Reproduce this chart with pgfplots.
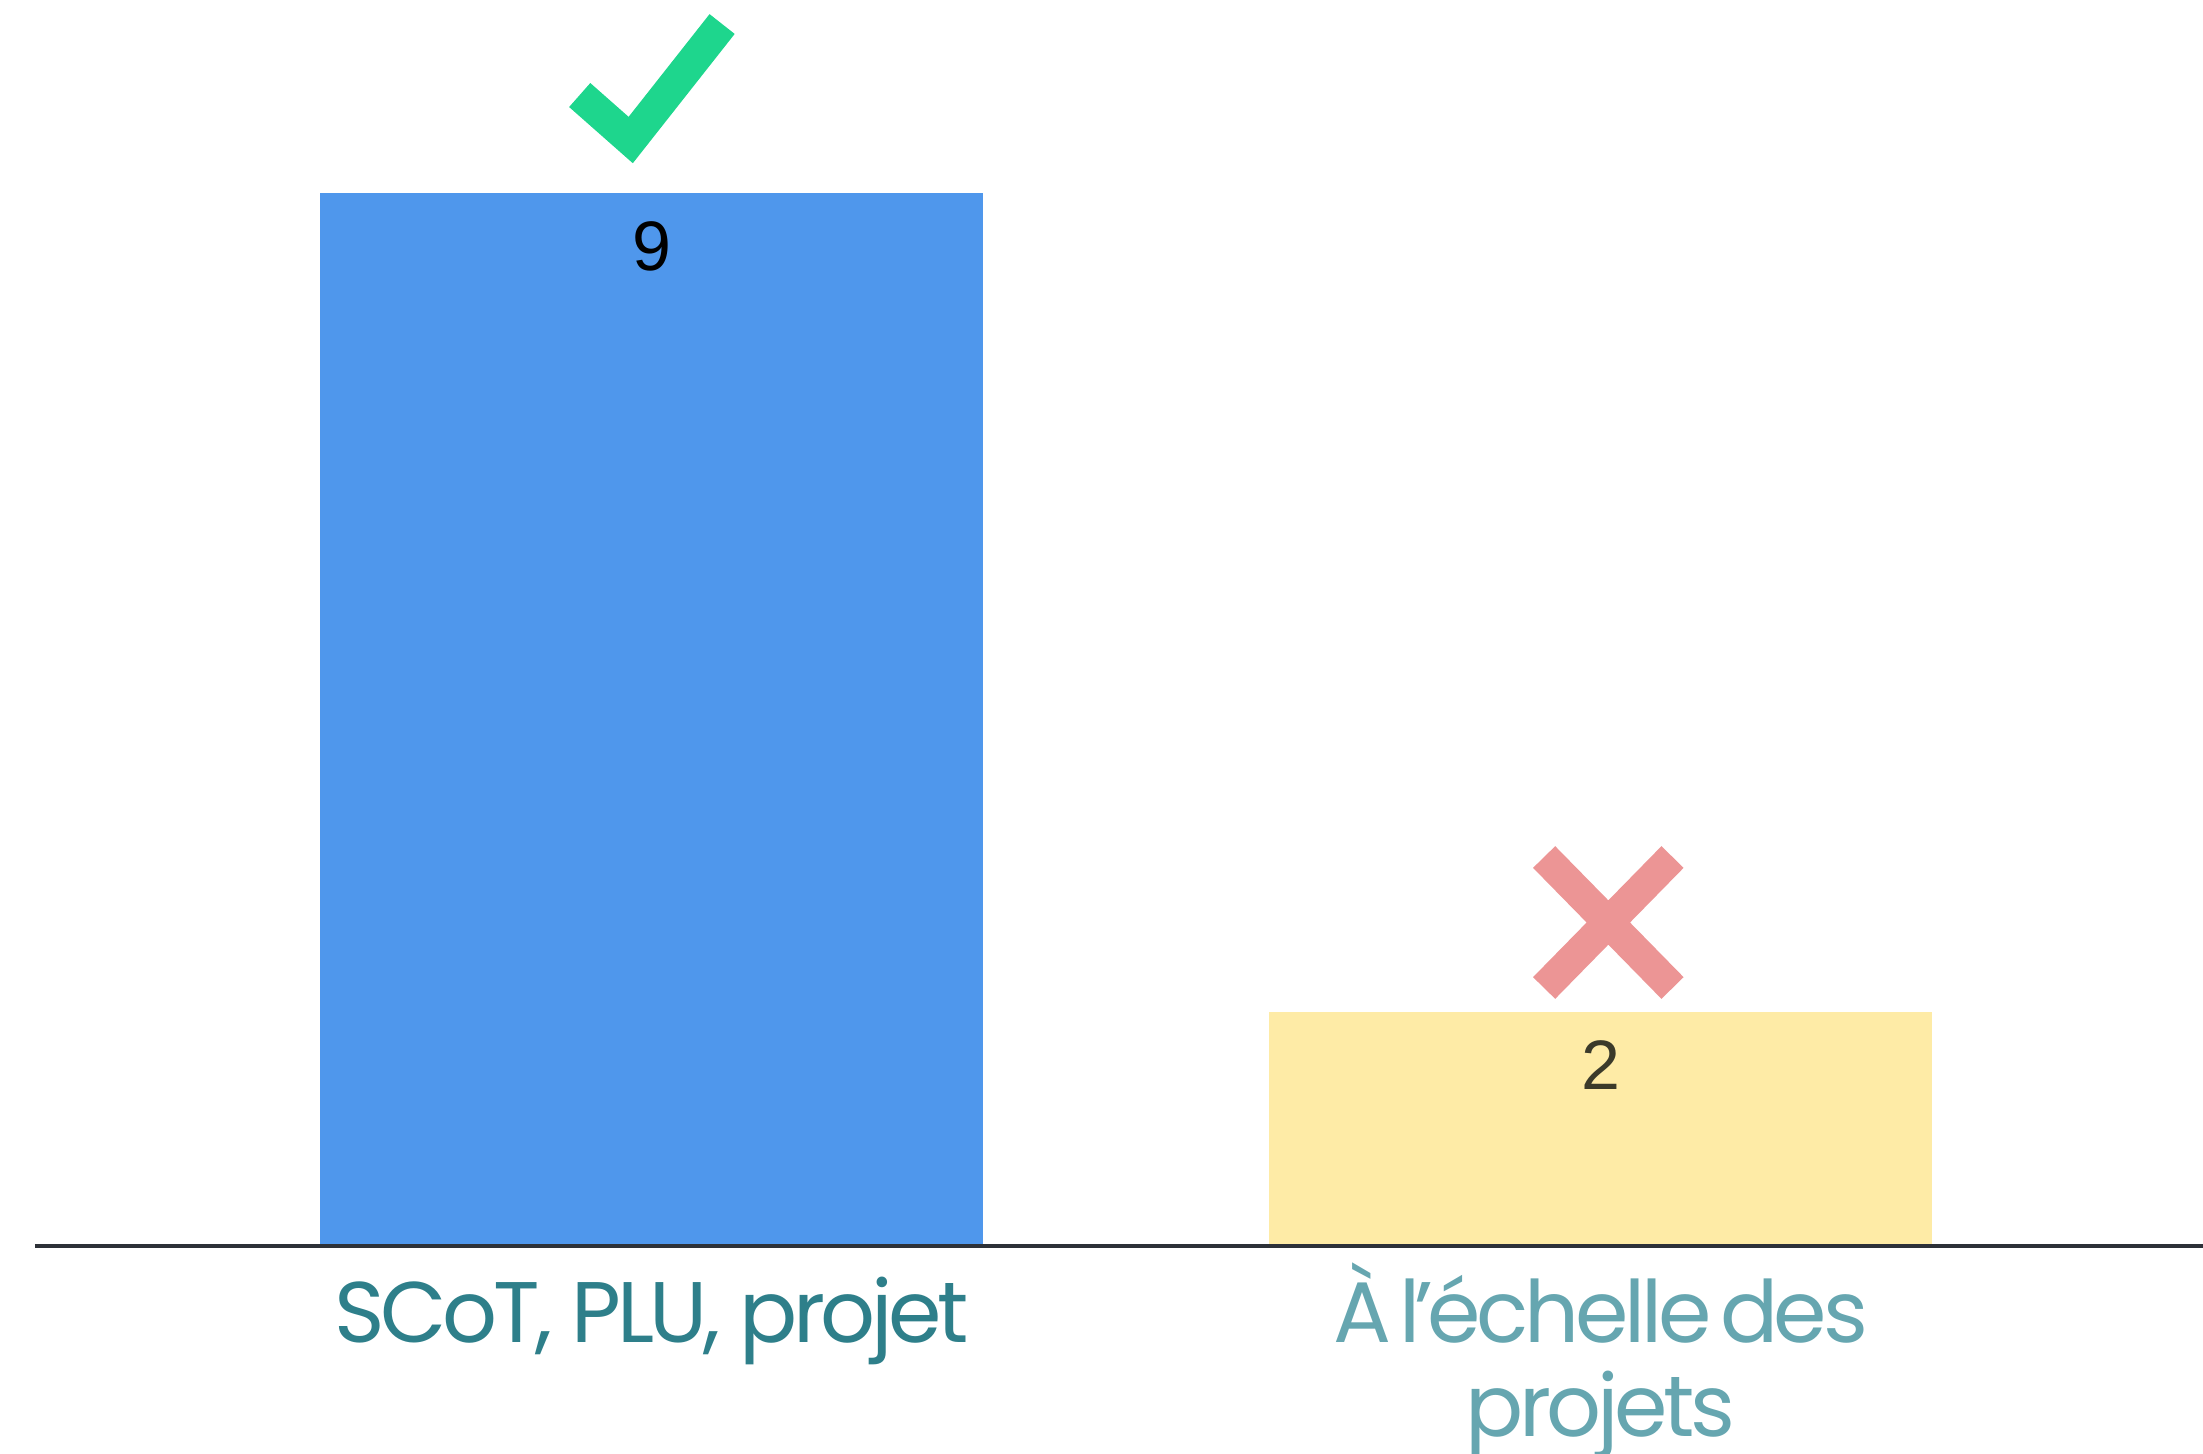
\documentclass[border=0pt]{standalone}
\usepackage{fontspec}
\usepackage{pgfplots}
\pgfplotsset{compat=1.18}
\newfontfamily\poppins[LetterSpace=-5]{Poppins}
\newfontfamily\arial{Liberation Sans}
\definecolor{barblue}{HTML}{4F97EC}
\definecolor{baryellow}{HTML}{FEEBA6}
\definecolor{chkgreen}{HTML}{1ED68D}
\definecolor{xpink}{HTML}{EC9595}
\definecolor{axisdark}{HTML}{2D3138}
\definecolor{labA}{HTML}{2E7F8A}
\definecolor{labB}{HTML}{66A6B0}
\definecolor{numB}{HTML}{3B3A2A}
\pgfdeclareplotmark{chk}{%
  \pgfsetmiterjoin\pgfsetbuttcap
  \pgfpathmoveto{\pgfpoint{-18pt}{24.5pt}}%
  \pgfpathlineto{\pgfpoint{-5.25pt}{13.25pt}}%
  \pgfpathlineto{\pgfpoint{17.6pt}{42.25pt}}%
  \pgfusepathqstroke}
\pgfdeclareplotmark{crs}{%
  \pgfsetbuttcap
  \pgfpathmoveto{\pgfpoint{-14.1pt}{38.75pt}}%
  \pgfpathlineto{\pgfpoint{18pt}{6pt}}%
  \pgfpathmoveto{\pgfpoint{-14.1pt}{6pt}}%
  \pgfpathlineto{\pgfpoint{18pt}{38.75pt}}%
  \pgfusepathqstroke}
\begin{document}
\begin{tikzpicture}
\begin{axis}[
  at={(0,0)}, anchor=south west,
  scale only axis, width=542pt, height=311.5pt,
  xmin=-0.65, xmax=1.635, ymin=0, ymax=10.65,
  axis x line*=bottom, axis y line=none,
  x axis line style={-, line width=1.2pt, color=axisdark},
  axis on top,
  ytick=\empty,
  xtick={0,1}, major tick length=0pt,
  xticklabels={{\textcolor{labA}{\rule{0pt}{22pt}SCoT, PLU, projet}},
               {\rule{0pt}{22pt}À\kern-2.5pt{} l\kern-1.5pt’\kern-1.5ptéchelle\kern-2.5pt{} des\\projets}},
  xticklabel style={align=center, text=labB, inner sep=0pt, yshift=-2pt,
    font=\poppins\fontsize{21.5}{23.5}\selectfont},
  ybar, bar width=165.75pt,
  nodes near coords={\arial\pgfmathprintnumber[assume math mode=true]{\pgfplotspointmeta}},
  every node near coord/.append style={anchor=north, inner sep=0pt, yshift=-7pt, font=\arial\fontsize{17.5}{19}\selectfont},
]
\addplot[fill=barblue, draw=none, bar shift=0pt, nodes near coords style={text=black}] coordinates {(0,9)};
\addplot[fill=baryellow, draw=none, bar shift=0pt, nodes near coords style={text=numB}] coordinates {(1,2)};
\addplot[only marks, mark=chk, mark options={draw=chkgreen, line width=8pt}, nodes near coords={}] coordinates {(0,9)};
\addplot[only marks, mark=crs, mark options={draw=xpink, line width=7.75pt}, nodes near coords={}] coordinates {(1,2)};
\end{axis}
\pgfresetboundingbox
\useasboundingbox (-8.75pt,-52pt) rectangle (542pt,311.5pt);
\end{tikzpicture}
\end{document}
